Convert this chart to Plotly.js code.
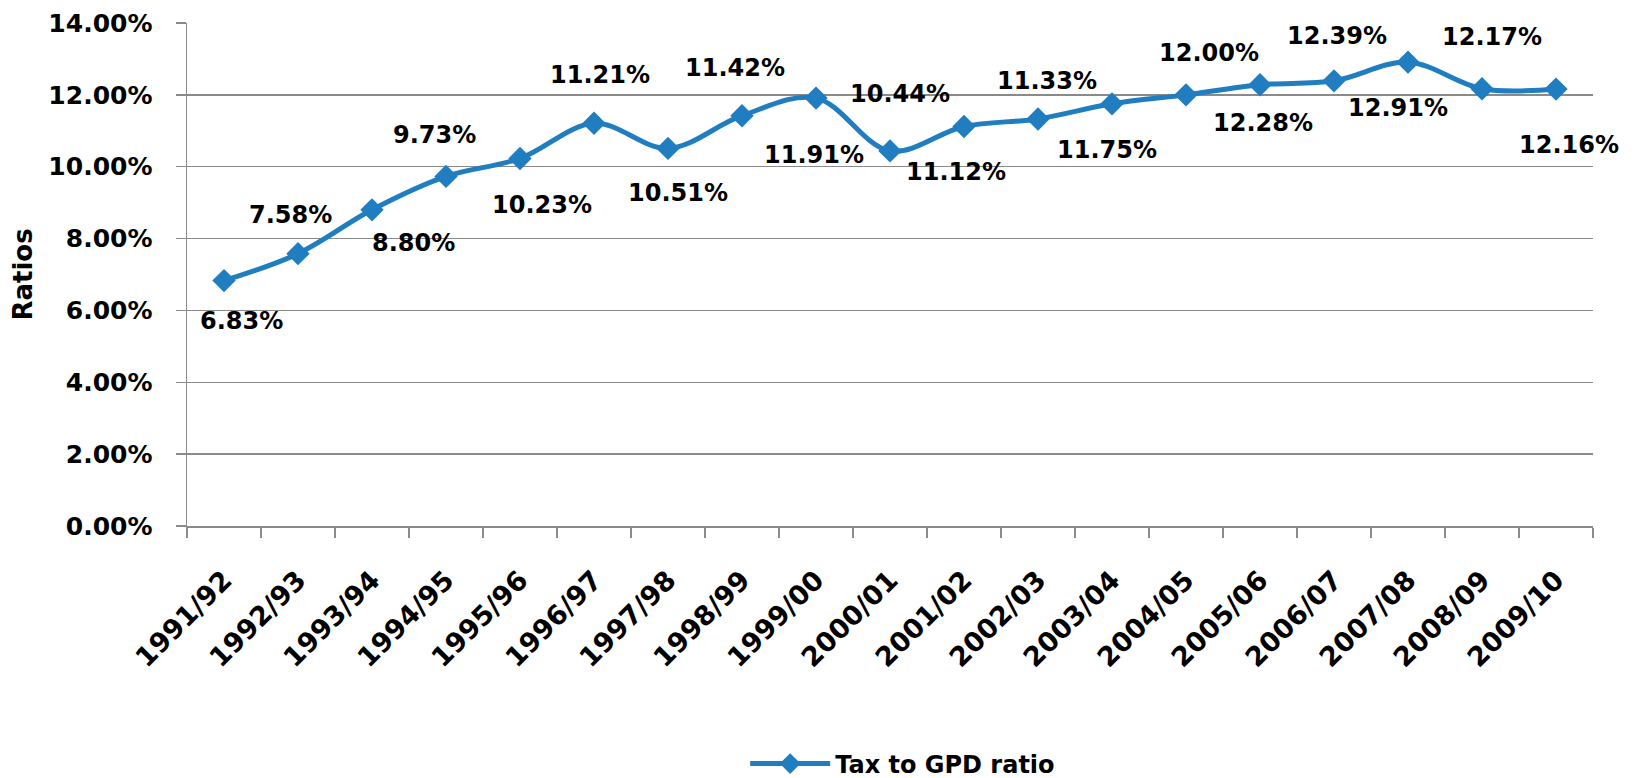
<!DOCTYPE html>
<html>
<head>
<meta charset="utf-8">
<script src="https://cdn.plot.ly/plotly-3.0.1.min.js"></script>
<style>html,body{margin:0;padding:0;background:#fff;}#chart{width:1634px;height:778px;}</style>
</head>
<body>
<div id="chart"></div>
<script>
// Data
const years = ["1991/92","1992/93","1993/94","1994/95","1995/96","1996/97","1997/98","1998/99","1999/00","2000/01",
               "2001/02","2002/03","2003/04","2004/05","2005/06","2006/07","2007/08","2008/09","2009/10"];
const taxToGdp = [6.83,7.58,8.80,9.73,10.23,11.21,10.51,11.42,11.91,10.44,
                  11.12,11.33,11.75,12.00,12.28,12.39,12.91,12.17,12.16];
const seriesName = "Tax to GPD ratio";
const yTickVals = [0,2,4,6,8,10,12,14];

// Label placement (pixel offsets from each point, styling only)
const labelDx = [17,-8,41,-12,22,6,10,-7,-2,10,-8,9,-5,23,3,3,-10,10,13];
const labelDy = [40,-39,33,-41,47,-48,45,-48,57,-57,46,-38,46,-42,38,-45,46,-52,56];

const FONT = 'DejaVu Sans';
const blue = 'rgb(31,125,192)';
const grid = '#8a8a8a';

const trace = {
  x: years, y: taxToGdp, type: 'scatter', mode: 'lines+markers', name: seriesName,
  line: {color: blue, width: 5, shape: 'spline', smoothing: 1},
  marker: {symbol: 'diamond', size: 18, color: blue},
  cliponaxis: false
};

const annotations = years.map((yr, i) => ({
  x: yr, y: taxToGdp[i], xref: 'x', yref: 'y',
  text: taxToGdp[i].toFixed(2) + '%', showarrow: false,
  xshift: labelDx[i], yshift: -labelDy[i],
  xanchor: 'center', yanchor: 'middle',
  font: {family: FONT, size: 24, weight: 'bold', color: '#000'}
}));

const layout = {
  width: 1634, height: 778,
  margin: {l: 187, r: 41, t: 23, b: 252},
  paper_bgcolor: '#fff', plot_bgcolor: '#fff',
  font: {family: FONT, color: '#000'},
  showlegend: true,
  legend: {orientation: 'h', x: 0.509, xanchor: 'center',
           yref: 'container', y: 0.018, yanchor: 'middle',
           itemwidth: 80,
           font: {family: FONT, size: 24, weight: 'bold', color: '#000'}},
  xaxis: {
    type: 'category', tickson: 'boundaries', ticks: 'outside', ticklen: 10, tickwidth: 1.5,
    tickcolor: grid, showline: true, linecolor: grid, linewidth: 1.5, showgrid: false,
    tickangle: -45, ticklabelstandoff: 26, automargin: false,
    tickfont: {family: FONT, size: 27, weight: 'bold', color: '#000'},
    range: [-0.5, years.length - 0.5], fixedrange: true
  },
  yaxis: {
    range: [0, 14], tickvals: yTickVals, ticktext: yTickVals.map(v => v.toFixed(2) + '%'),
    ticks: 'outside', ticklen: 10, tickwidth: 1.5, tickcolor: grid,
    showline: true, linecolor: grid, linewidth: 1.5,
    showgrid: true, gridcolor: grid, gridwidth: 1.5, zeroline: false,
    ticklabelstandoff: 18, automargin: false,
    tickfont: {family: FONT, size: 25, weight: 'bold', color: '#000'},
    title: {text: 'Ratios', standoff: 8, font: {family: FONT, size: 26, weight: 'bold', color: '#000'}},
    fixedrange: true
  },
  annotations: annotations
};

Plotly.newPlot('chart', [trace], layout, {displayModeBar: false, staticPlot: true});
</script>
</body>
</html>
